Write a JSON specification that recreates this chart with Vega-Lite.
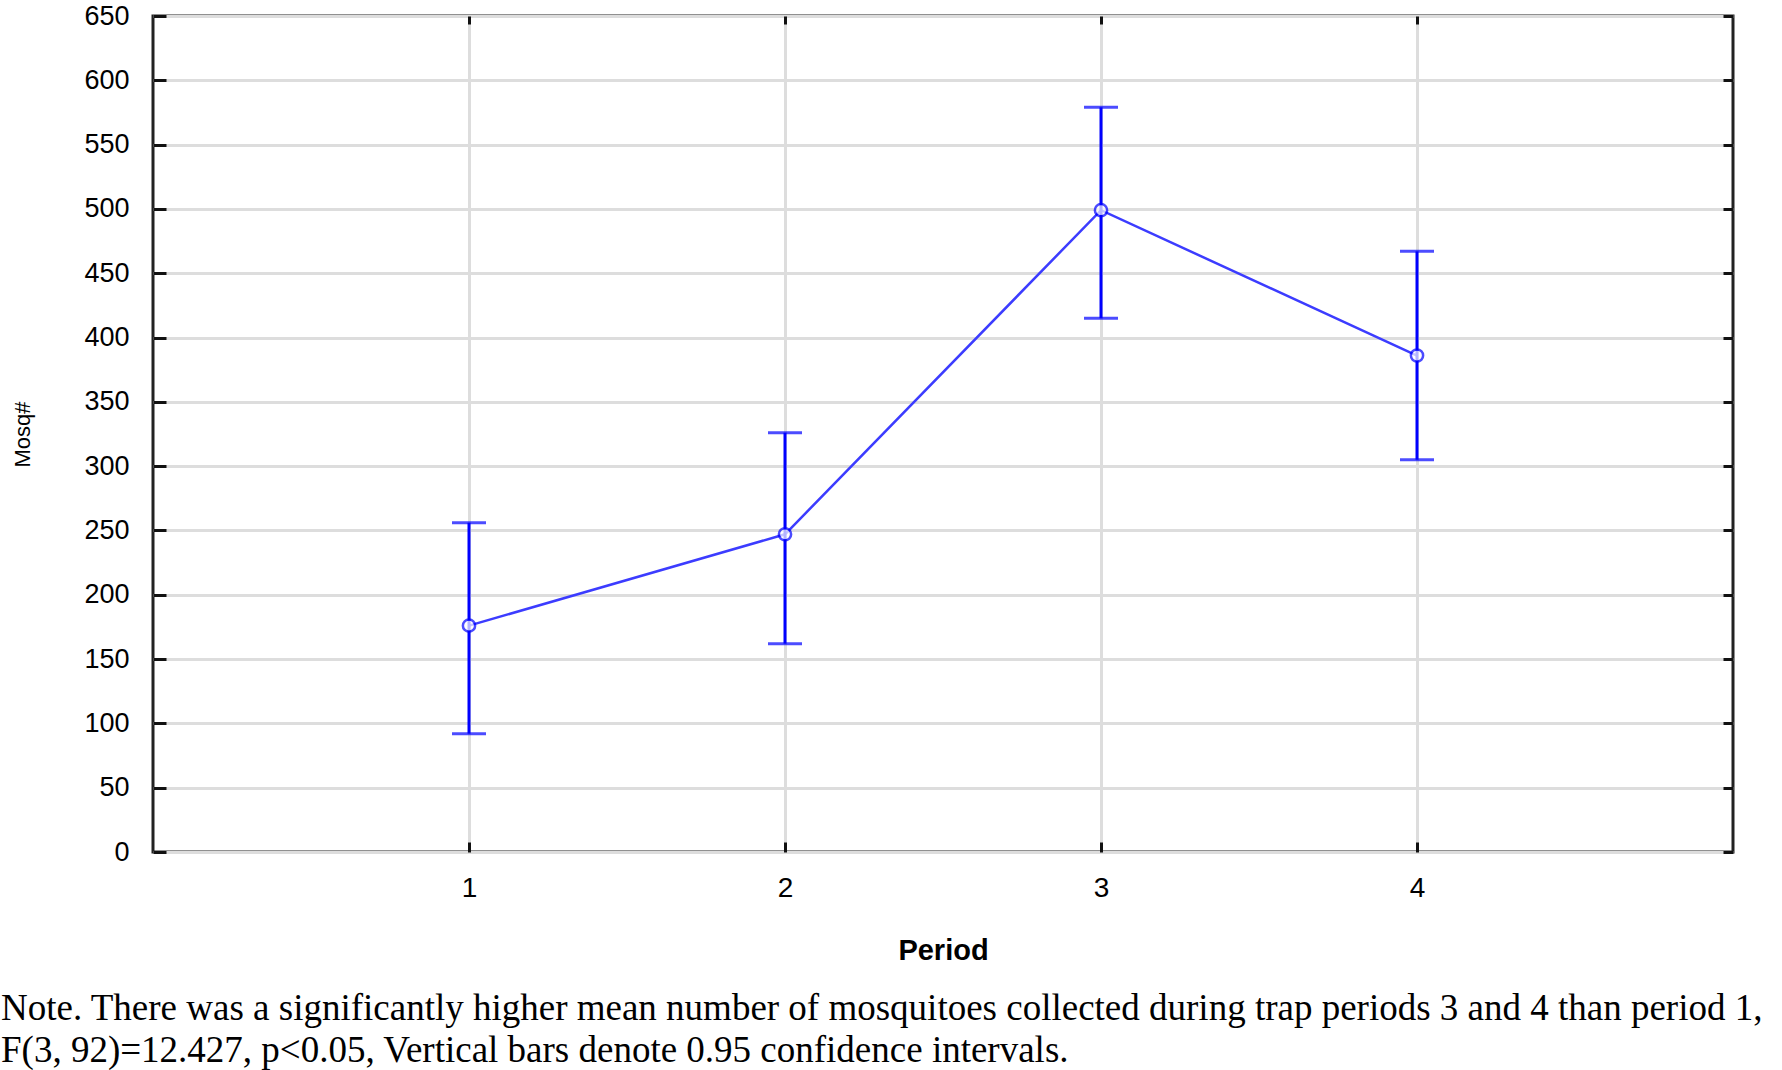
{
  "$schema": "https://vega.github.io/schema/vega-lite/v6.json",
  "autosize": {"type": "none"},
  "padding": {"left": 153, "top": 16, "right": 49, "bottom": 218},
  "width": 1580,
  "height": 836,
  "background": "white",
  "config": {
    "view": {"stroke": "#222222", "strokeWidth": 3},
    "axis": {
      "labelFont": "Liberation Sans",
      "titleFont": "Liberation Sans",
      "labelColor": "#000000",
      "titleColor": "#000000",
      "domain": false,
      "gridColor": "#dddddd",
      "gridWidth": 3,
      "tickColor": "#111111",
      "tickWidth": 3
    }
  },
  "title": {
    "text": ["Note. There was a significantly higher mean number of mosquitoes collected during trap periods 3 and 4 than period 1,", "F(3, 92)=12.427, p<0.05, Vertical bars denote 0.95 confidence intervals."],
    "orient": "bottom",
    "anchor": "start",
    "frame": "group",
    "dx": -152,
    "offset": 26,
    "font": "Liberation Serif",
    "fontSize": 37,
    "fontWeight": "normal",
    "color": "#000000",
    "lineHeight": 42
  },
  "data": {
    "values": [
      {"Period": 1, "Mosq": 176, "low": 92, "high": 256},
      {"Period": 2, "Mosq": 247, "low": 162, "high": 326},
      {"Period": 3, "Mosq": 499, "low": 415, "high": 579},
      {"Period": 4, "Mosq": 386, "low": 305, "high": 467}
    ]
  },
  "resolve": {"axis": {"x": "independent", "y": "independent"}},
  "layer": [
    {
      "mark": {"type": "line", "color": "#3c3cff", "strokeWidth": 2.5},
      "encoding": {
        "x": {"field": "Period", "type": "quantitative", "scale": {"domain": [0, 5], "nice": false},
              "axis": {"values": [1, 2, 3, 4], "title": "Period", "labelFontSize": 28, "titleFontSize": 29, "titleFontWeight": "bold", "tickSize": -10, "labelPadding": 32, "titlePadding": 34, "grid": true}},
        "y": {"field": "Mosq", "type": "quantitative", "scale": {"domain": [0, 650], "nice": false},
              "axis": {"values": [0,50,100,150,200,250,300,350,400,450,500,550,600,650], "title": "Mosq#", "labelFontSize": 27, "titleFontSize": 22, "titleFontWeight": "normal", "tickSize": -13, "labelPadding": 37, "titlePadding": 49, "grid": true}}
      }
    },
    {
      "mark": {"type": "errorbar", "color": "#0000ff", "ticks": {"size": 34, "thickness": 3, "color": "#0000ff"}, "rule": {"strokeWidth": 3}},
      "encoding": {
        "x": {"field": "Period", "type": "quantitative", "axis": null},
        "y": {"field": "low", "type": "quantitative", "axis": null},
        "y2": {"field": "high"}
      }
    },
    {
      "mark": {"type": "point", "shape": "circle", "size": 150, "filled": true, "fill": "white", "stroke": "#0000ff", "strokeWidth": 2.5},
      "encoding": {
        "x": {"field": "Period", "type": "quantitative", "axis": null},
        "y": {"field": "Mosq", "type": "quantitative", "axis": null}
      }
    },
    {
      "mark": {"type": "point", "opacity": 0},
      "encoding": {
        "x": {"field": "Period", "type": "quantitative", "axis": {"orient": "top", "values": [1, 2, 3, 4], "labels": false, "title": null, "grid": false, "tickSize": -8}},
        "y": {"field": "Mosq", "type": "quantitative", "axis": {"orient": "right", "values": [0,50,100,150,200,250,300,350,400,450,500,550,600,650], "labels": false, "title": null, "grid": false, "tickSize": -10}}
      }
    }
  ]
}
